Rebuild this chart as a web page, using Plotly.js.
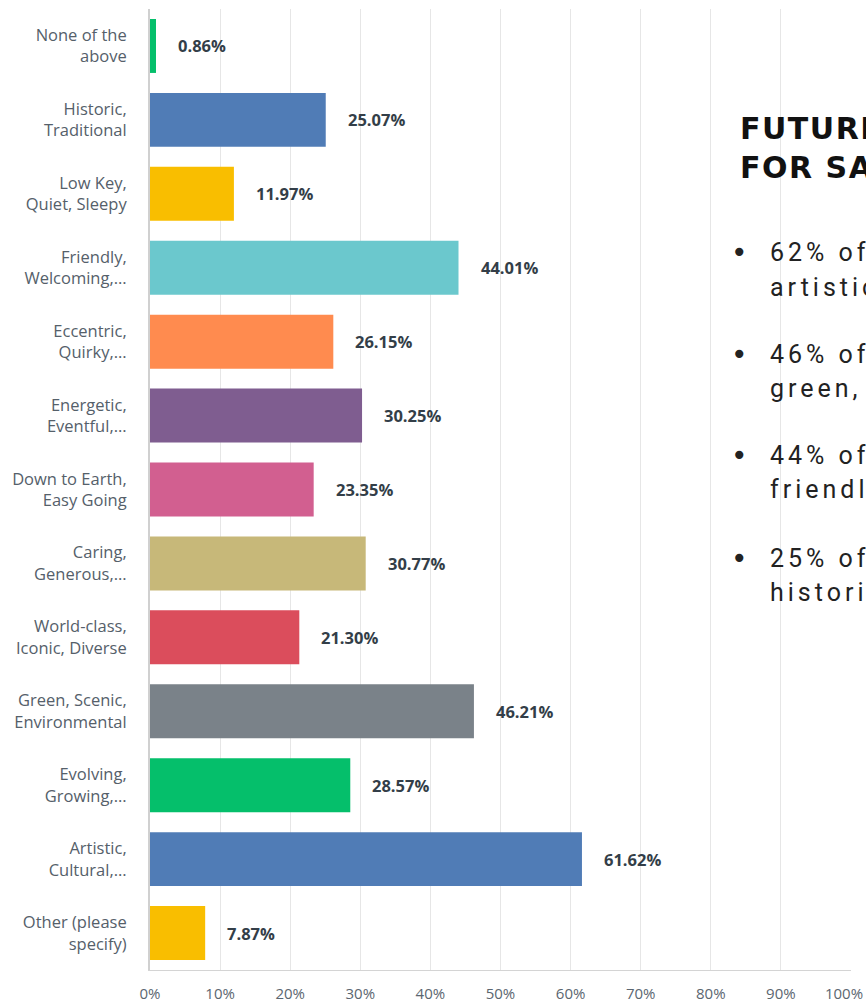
<!DOCTYPE html>
<html>
<head>
<meta charset="utf-8">
<script src="https://cdn.plot.ly/plotly-3.0.1.min.js"></script>
<style>
html,body{margin:0;padding:0;background:#fff;}
#chart{width:866px;height:1002px;}
</style>
</head>
<body>
<div id="chart"></div>
<script>
const categories = [
  "None of the<br>above",
  "Historic,<br>Traditional",
  "Low Key,<br>Quiet, Sleepy",
  "Friendly,<br>Welcoming,...",
  "Eccentric,<br>Quirky,...",
  "Energetic,<br>Eventful,...",
  "Down to Earth,<br>Easy Going",
  "Caring,<br>Generous,...",
  "World-class,<br>Iconic, Diverse",
  "Green, Scenic,<br>Environmental",
  "Evolving,<br>Growing,...",
  "Artistic,<br>Cultural,...",
  "Other (please<br>specify)"
];
const values = [0.86, 25.07, 11.97, 44.01, 26.15, 30.25, 23.35, 30.77, 21.30, 46.21, 28.57, 61.62, 7.87];
const colors = ["#05BF6B","#507CB6","#F9BE00","#6BC8CD","#FF8B4F","#7F5D90","#D25F90","#C7B879","#DB4D5C","#7A8289","#05BF6B","#507CB6","#F9BE00"];
const xTickVals = [0,10,20,30,40,50,60,70,80,90,100];
const xTickText = ["0%","10%","20%","30%","40%","50%","60%","70%","80%","90%","100%"];
const sideTitle = ["FUTURE VISION", "FOR SAN JOSE"];
const sideBullets = [
  ["62% of respondents", "artistic, cultural"],
  ["46% of respondents", "green, scenic"],
  ["44% of respondents", "friendly, welcoming"],
  ["25% of respondents", "historic, traditional"]
];

const trace = {
  type: "bar",
  orientation: "h",
  x: values,
  y: categories,
  marker: {color: colors, line: {width: 0}},
  width: 0.73,
  hoverinfo: "none"
};

const annotations = values.map((v, i) => ({
  x: v, y: categories[i], xref: "x", yref: "y",
  text: v.toFixed(2) + "%",
  showarrow: false, xanchor: "left", xshift: 20,
  font: {family: "Open Sans, sans-serif", size: 16.5, color: "#333e48", weight: 700}
}));

// side text block (paper coords)
const titleY = [0.876, 0.8346];
sideTitle.forEach((t, i) => annotations.push({
  x: 0.8388, y: titleY[i], xref: "paper", yref: "paper",
  text: t, showarrow: false, xanchor: "left", yanchor: "middle",
  font: {family: "DejaVu Sans, sans-serif", size: 30, color: "#111111", weight: 700}
}));
const bulletY = [[0.7461, 0.7107], [0.6400, 0.6046], [0.5349, 0.4995], [0.4287, 0.3933]];
sideBullets.forEach((b, i) => {
  annotations.push({
    x: 0.8260, y: bulletY[i][0], xref: "paper", yref: "paper",
    text: "•", showarrow: false, xanchor: "left", yanchor: "middle",
    font: {family: "DejaVu Sans, sans-serif", size: 28, color: "#222222"}
  });
  b.forEach((line, j) => annotations.push({
    x: 0.8816, y: bulletY[i][j], xref: "paper", yref: "paper",
    text: line, showarrow: false, xanchor: "left", yanchor: "middle",
    font: {family: "Roboto, sans-serif", size: 25, color: "#222222"}
  }));
});

const layout = {
  width: 866, height: 1002,
  margin: {l: 150, r: 15, t: 9, b: 32},
  paper_bgcolor: "#ffffff", plot_bgcolor: "#ffffff",
  showlegend: false,
  bargap: 0.27,
  xaxis: {
    range: [0, 100], tickvals: xTickVals, ticktext: xTickText,
    showgrid: true, gridcolor: "#e6e6e6", gridwidth: 1,
    zeroline: false, showline: true, linecolor: "#d4d4d4", linewidth: 1,
    ticks: "", ticklabelstandoff: 10, ticklabeloverflow: "allow",
    tickfont: {family: "Open Sans, sans-serif", size: 15, color: "#5b6670"},
    fixedrange: true
  },
  yaxis: {
    autorange: "reversed", type: "category",
    showgrid: false, zeroline: false,
    showline: true, linecolor: "#d0d0d0", linewidth: 2,
    ticks: "", ticklabelstandoff: 18,
    tickfont: {family: "Open Sans, sans-serif", size: 16.5, color: "#55606a"},
    fixedrange: true
  },
  annotations: annotations
};

Plotly.newPlot("chart", [trace], layout, {displayModeBar: false, staticPlot: true}).then(() => {
  document.querySelectorAll(".annotation-text").forEach(el => {
    const ff = el.style.fontFamily || "";
    let sp = null;
    if (ff.indexOf("Roboto") >= 0) sp = "4px";
    if (ff.indexOf("DejaVu") >= 0 && el.textContent !== "•") sp = "1.5px";
    if (sp) {
      const bb = el.getBBox();
      el.setAttribute("text-anchor", "start");
      el.setAttribute("x", bb.x);
      el.style.letterSpacing = sp;
    }
  });
  const xt = document.querySelectorAll(".xtick text");
  if (xt.length) {
    const last = xt[xt.length - 1];
    last.setAttribute("x", parseFloat(last.getAttribute("x") || 0) - 7);
  }
});
</script>
</body>
</html>
